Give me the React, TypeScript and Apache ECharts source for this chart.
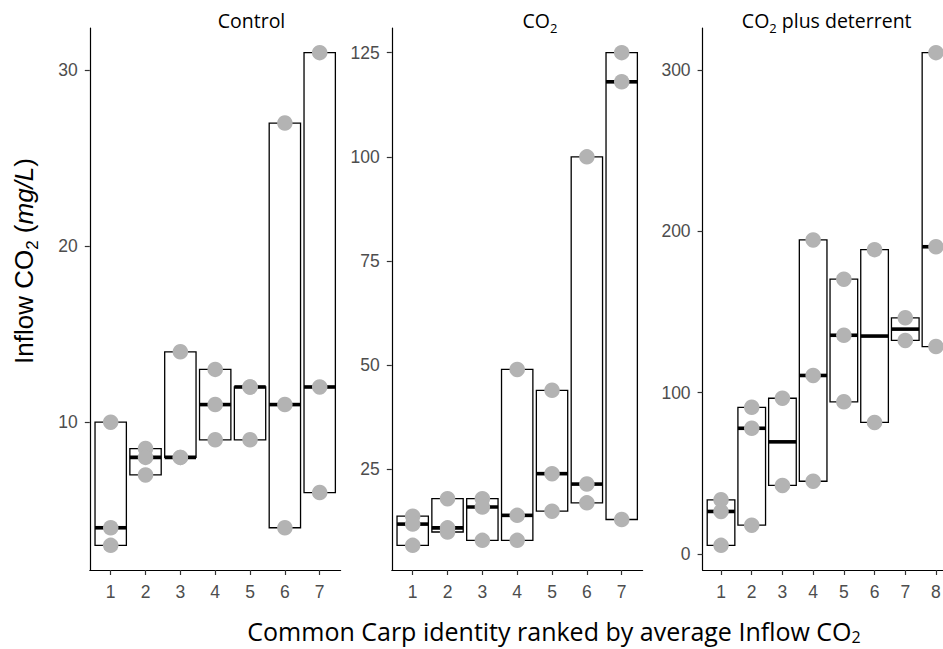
import React, { useEffect, useRef } from "react";
import * as echarts from "echarts";

// Carp values per panel (each inner list = the individual measurements of one carp)
const controlValues: number[][] = [
  [10, 4, 3],
  [8.5, 8, 7],
  [14, 8, 8],
  [13, 11, 9],
  [12, 12, 9],
  [27, 11, 4],
  [31, 12, 6],
];
const co2Values: number[][] = [
  [13.8, 11.9, 6.8],
  [18, 11, 10],
  [18, 16, 8],
  [49, 14, 8],
  [44, 24, 15],
  [100, 21.5, 17],
  [125, 118, 13],
];
const deterrentValues: number[][] = [
  [33.7, 26.5, 5.5],
  [91, 78, 18],
  [96.6, 42.6],
  [194.6, 110.7, 45.2],
  [170.3, 135.6, 94.4],
  [188.6, 81.6],
  [146.4, 132.4],
  [310.6, 190.4, 128.6],
];

const controlTicks = [10, 20, 30];
const co2Ticks = [25, 50, 75, 100, 125];
const deterrentTicks = [0, 100, 200, 300];

const panelTitles = ["Control", "CO2", "CO2 plus deterrent"];

function median(v: number[]) {
  const s = [...v].sort((a, b) => a - b);
  const n = s.length;
  return n % 2 ? s[(n - 1) / 2] : (s[n / 2 - 1] + s[n / 2]) / 2;
}

const TICK_FONT = "'Liberation Sans', Arial, sans-serif";
const TITLE_FONT = "'Open Sans', sans-serif";

export default function App() {
  const ref = useRef<HTMLDivElement>(null);
  useEffect(() => {
    document.body.style.margin = "0";
    document.body.style.overflow = "hidden";
    if (!ref.current) return;
    const chart = echarts.init(ref.current, undefined, { renderer: "svg" });

    const panels = [
      { values: controlValues, ticks: controlTicks, left: 89.8, width: 250.8 },
      { values: co2Values, ticks: co2Ticks, left: 391.8, width: 250.8 },
      { values: deterrentValues, ticks: deterrentTicks, left: 702.6, width: 251.8 },
    ];

    const grids: any[] = [];
    const xAxes: any[] = [];
    const yAxes: any[] = [];
    const series: any[] = [];

    panels.forEach((p, i) => {
      const n = p.values.length;
      const all = p.values.flat();
      const lo = Math.min(...all);
      const hi = Math.max(...all);
      const pad = (hi - lo) * 0.05;
      const xs = p.values.map((_, k) => k + 1);
      grids.push({ left: p.left, width: p.width, top: 28, height: 542 });
      xAxes.push({
        type: "value",
        gridIndex: i,
        min: 0.4,
        max: n + 0.6,
        splitLine: { show: false },
        axisLine: { onZero: false, lineStyle: { color: "#000", width: 1.2 } },
        axisTick: { show: true, customValues: xs, length: 5, lineStyle: { color: "#333", width: 1.2 } },
        axisLabel: {
          customValues: xs,
          color: "#4d4d4d",
          fontSize: 17.5,
          fontFamily: TICK_FONT,
          margin: 13,
        },
      });
      yAxes.push({
        type: "value",
        gridIndex: i,
        min: lo - pad,
        max: hi + pad,
        splitLine: { show: false },
        axisLine: { show: true, onZero: false, lineStyle: { color: "#000", width: 1.2 } },
        axisTick: { show: true, customValues: p.ticks, length: 5, lineStyle: { color: "#333", width: 1.2 } },
        axisLabel: {
          customValues: p.ticks,
          color: "#4d4d4d",
          fontSize: 17.5,
          fontFamily: TICK_FONT,
          margin: 12,
        },
      });
      series.push({
        type: "custom",
        xAxisIndex: i,
        yAxisIndex: i,
        z: 2,
        data: p.values.map((v, k) => [k + 1, Math.min(...v), median(v), Math.max(...v)]),
        encode: { x: 0, y: [1, 2, 3] },
        renderItem: (_params: any, api: any) => {
          const x = api.value(0);
          const pLo = api.coord([x, api.value(1)]);
          const pMed = api.coord([x, api.value(2)]);
          const pHi = api.coord([x, api.value(3)]);
          const w = api.size([0.9, 0])[0];
          return {
            type: "group",
            children: [
              {
                type: "rect",
                shape: { x: pHi[0] - w / 2, y: pHi[1], width: w, height: pLo[1] - pHi[1] },
                style: { fill: "#fff", stroke: "#000", lineWidth: 1.3 },
              },
              {
                type: "line",
                shape: { x1: pHi[0] - w / 2, y1: pMed[1], x2: pHi[0] + w / 2, y2: pMed[1] },
                style: { stroke: "#000", lineWidth: 3.6 },
              },
            ],
          };
        },
      });
      const pts: number[][] = [];
      p.values.forEach((v, k) => v.forEach((y) => pts.push([k + 1, y])));
      series.push({
        type: "scatter",
        xAxisIndex: i,
        yAxisIndex: i,
        z: 3,
        symbol: "circle",
        symbolSize: 15.5,
        itemStyle: { color: "#b3b3b3", opacity: 1 },
        data: pts,
      });
    });

    const titleRich = {
      a: { fontSize: 19.5, fontFamily: TITLE_FONT, color: "#000", lineHeight: 28 },
      s: { fontSize: 13, fontFamily: TITLE_FONT, color: "#000", verticalAlign: "bottom", lineHeight: 16 },
    };

    const graphic: any[] = [
      {
        type: "text",
        x: 251.5,
        y: 20,
        style: {
          text: "{a|" + panelTitles[0] + "}",
          rich: titleRich,
          align: "center",
          verticalAlign: "middle",
        },
      },
      {
        type: "text",
        x: 540,
        y: 20,
        style: {
          text: "{a|CO}{s|2}",
          rich: titleRich,
          align: "center",
          verticalAlign: "middle",
        },
      },
      {
        type: "text",
        x: 826.7,
        y: 20,
        style: {
          text: "{a|CO}{s|2}{a| plus deterrent}",
          rich: titleRich,
          align: "center",
          verticalAlign: "middle",
        },
      },
      {
        type: "text",
        x: 554,
        y: 631,
        style: {
          text: "{a|Common Carp identity ranked by average Inflow CO}{s|2}",
          rich: {
            a: { fontSize: 25, fontFamily: TITLE_FONT, color: "#000", lineHeight: 28 },
            s: { fontSize: 16, fontFamily: TITLE_FONT, color: "#000", verticalAlign: "bottom", lineHeight: 18 },
          },
          align: "center",
          verticalAlign: "middle",
        },
      },
      {
        type: "text",
        x: 24,
        y: 261,
        rotation: Math.PI / 2,
        style: {
          text: "{a|Inflow CO}{s|2}{a| (}{i|mg/L}{a|)}",
          rich: {
            a: { fontSize: 26, fontFamily: TICK_FONT, color: "#000", lineHeight: 34 },
            i: { fontSize: 26, fontFamily: TICK_FONT, fontStyle: "italic", color: "#000", lineHeight: 34 },
            s: { fontSize: 17, fontFamily: TICK_FONT, color: "#000", verticalAlign: "bottom", lineHeight: 22 },
          },
          align: "center",
          verticalAlign: "middle",
        },
      },
    ];

    chart.setOption({
      animation: false,
      backgroundColor: "#fff",
      grid: grids,
      xAxis: xAxes,
      yAxis: yAxes,
      series,
      graphic,
    });
    return () => chart.dispose();
  }, []);
  return (
    <div style={{ width: 943, height: 649, overflow: "hidden", position: "relative" }}>
      <div ref={ref} style={{ width: 980, height: 649 }} />
    </div>
  );
}
